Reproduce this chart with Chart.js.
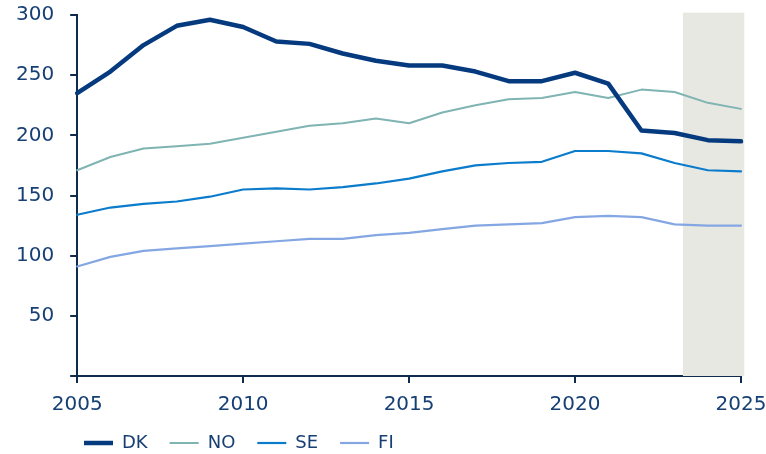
<!DOCTYPE html>
<html>
<head>
<meta charset="utf-8">
<script src="https://cdn.jsdelivr.net/npm/chart.js@4"></script>
<style>
  html, body { margin: 0; padding: 0; background: #fff; }
  #wrap { width: 766px; height: 454px; }
</style>
</head>
<body>
<div id="wrap"><canvas id="line-chart" width="766" height="454"></canvas></div>
<script>
const years = [2005, 2006, 2007, 2008, 2009, 2010, 2011, 2012, 2013, 2014, 2015, 2016, 2017, 2018, 2019, 2020, 2021, 2022, 2023, 2024, 2025];
const dk = [235, 253, 275, 291, 296, 290, 278, 276, 268, 262, 258, 258, 253, 245, 245, 252, 243, 204, 202, 196, 195];
const no = [171, 182, 189, 191, 193, 198, 203, 208, 210, 214, 210, 219, 225, 230, 231, 236, 231, 238, 236, 227, 222];
const se = [134, 140, 143, 145, 149, 155, 156, 155, 157, 160, 164, 170, 175, 177, 178, 187, 187, 185, 177, 171, 170];
const fi = [91, 99, 104, 106, 108, 110, 112, 114, 114, 117, 119, 122, 125, 126, 127, 132, 133, 132, 126, 125, 125];
const yTicks = [0, 50, 100, 150, 200, 250, 300];
const forecastFrom = 2023.25;
const forecastTo = 2025.1;

const textColor = "#163f74";
const axisColor = "#0f2a4a";

function pts(arr) {
  return arr.map((v, i) => ({ x: years[i], y: v }));
}

// grey forecast band behind the lines
const forecastBand = {
  id: "forecastBand",
  beforeDatasetsDraw(chart) {
    const { ctx, scales } = chart;
    const x1 = scales.x.getPixelForValue(forecastFrom);
    const x2 = scales.x.getPixelForValue(forecastTo);
    const y1 = scales.y.getPixelForValue(302);
    const y2 = scales.y.getPixelForValue(0);
    ctx.save();
    ctx.fillStyle = "#e8e8e3";
    ctx.fillRect(x1, y1, x2 - x1, y2 - y1);
    ctx.restore();
  }
};

// legend: less height, pushed in from the left edge
const legendTweak = {
  id: "legendTweak",
  beforeLayout(chart) {
    const lg = chart.legend;
    if (lg && !lg._tweaked) {
      const fit = lg.fit.bind(lg);
      lg.fit = function () { fit(); this.height -= 27; };
      lg._tweaked = true;
    }
  },
  afterLayout(chart) {
    chart.legend.left += 62;
    chart.legend.top -= 15;
  }
};

new Chart(document.getElementById("line-chart"), {
  type: "line",
  data: {
    datasets: [
      { label: "DK", data: pts(dk), borderColor: "#053b7e", borderWidth: 4.5 },
      { label: "NO", data: pts(no), borderColor: "#7fb4b3", borderWidth: 2 },
      { label: "SE", data: pts(se), borderColor: "#0b7ccb", borderWidth: 2.2 },
      { label: "FI", data: pts(fi), borderColor: "#84a7e3", borderWidth: 2.2 }
    ]
  },
  options: {
    responsive: false,
    animation: false,
    layout: { padding: { top: 15, left: 0, right: 0, bottom: 4 } },
    elements: {
      point: { radius: 0 },
      line: { tension: 0, borderCapStyle: "round", borderJoinStyle: "round", fill: false }
    },
    datasets: { line: { clip: false } },
    scales: {
      x: {
        type: "linear",
        min: 2005,
        max: 2025,
        afterFit: axis => { axis.paddingRight = 25; },
        border: { color: axisColor, width: 2 },
        grid: { drawOnChartArea: false, drawTicks: true, tickLength: 7, color: axisColor, lineWidth: 2 },
        ticks: {
          stepSize: 5,
          padding: 10,
          color: textColor,
          font: { family: "DejaVu Sans", size: 20 },
          callback: v => String(v)
        }
      },
      y: {
        min: 0,
        max: 300,
        afterBuildTicks: axis => { axis.ticks = yTicks.map(v => ({ value: v })); },
        afterFit: axis => { axis.paddingTop = 0; },
        border: { color: axisColor, width: 2 },
        grid: { drawOnChartArea: false, drawTicks: true, tickLength: 7, color: axisColor, lineWidth: 2 },
        ticks: {
          padding: 16,
          color: textColor,
          font: { family: "DejaVu Sans", size: 20 },
          callback: v => (v === 0 ? "" : String(v))
        }
      }
    },
    plugins: {
      tooltip: { enabled: false },
      legend: {
        position: "bottom",
        align: "start",
        labels: {
          usePointStyle: true,
          pointStyle: "line",
          pointStyleWidth: 29,
          padding: 22,
          color: textColor,
          font: { family: "DejaVu Sans", size: 18 }
        }
      }
    }
  },
  plugins: [forecastBand, legendTweak]
});
</script>
</body>
</html>
